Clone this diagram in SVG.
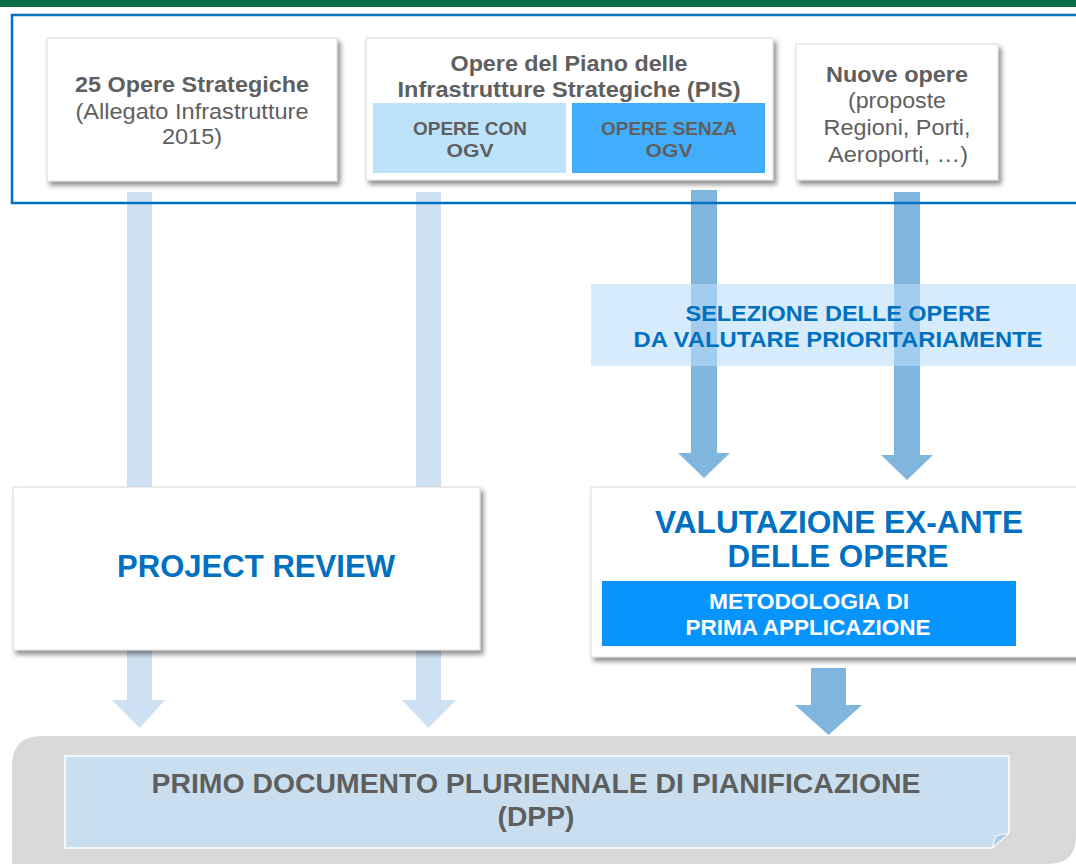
<svg xmlns="http://www.w3.org/2000/svg" width="1076" height="864" viewBox="0 0 1076 864">
  <defs>
    <filter id="sh" x="-10%" y="-10%" width="125%" height="130%">
      <feDropShadow dx="3" dy="4" stdDeviation="2.5" flood-color="#000" flood-opacity="0.45"/>
    </filter>
    <style>
      text { font-family: "Liberation Sans", Arial, sans-serif; text-anchor: middle; }
      .box { fill: #ffffff; stroke: #d9d9d9; stroke-width: 1; filter: url(#sh); }
      .g { fill: #5f5f5f; }
      .b { font-weight: bold; }
      .blue { fill: #0070c0; font-weight: bold; }
      .la { fill: #cde1f2; }
      .da { fill: #80b5de; }
    </style>
  </defs>
  <rect width="1076" height="864" fill="#ffffff"/>
  <rect x="0" y="0" width="1076" height="7" fill="#0a6e46"/>

  <g id="dpp-area">
    <path d="M42,736 H1076 V836 Q1076,864 1048,864 H12 V766 Q12,736 42,736 Z" fill="#d9d9d9"/>
  </g>

  <g id="connectors">
    <polygon class="la" points="127,192 152,192 152,700 165,700 139.5,728 112,700 127,700"/>
    <polygon class="la" points="416,192 441,192 441,700 456,700 428.5,728 402,700 416,700"/>
    <polygon class="da" points="691,190 717,190 717,453 730,453 704,478 678,453 691,453"/>
    <polygon class="da" points="894,192 920,192 920,455 933,455 907,480 881,455 894,455"/>
    <polygon class="da" points="811,668 846,668 846,705 862,705 828.5,735 795,705 811,705"/>
  </g>

  <g id="frame">
    <rect x="12" y="15" width="1080" height="188" fill="none" stroke="#0070c0" stroke-width="2.5"/>
  </g>

  <g id="opere-strategiche">
    <rect class="box" x="47" y="38" width="290" height="143"/>
    <text class="g b" x="192" y="92" font-size="22.5" textLength="234" lengthAdjust="spacingAndGlyphs">25 Opere Strategiche</text>
    <text class="g" x="192" y="119" font-size="22.5" textLength="233" lengthAdjust="spacingAndGlyphs">(Allegato Infrastrutture</text>
    <text class="g" x="192" y="144" font-size="22.5" textLength="60" lengthAdjust="spacingAndGlyphs">2015)</text>
  </g>

  <g id="pis">
    <rect class="box" x="366" y="38" width="407" height="142"/>
    <text class="g b" x="569" y="71" font-size="22.5" textLength="237" lengthAdjust="spacingAndGlyphs">Opere del Piano delle</text>
    <text class="g b" x="569" y="97" font-size="22.5" textLength="343" lengthAdjust="spacingAndGlyphs">Infrastrutture Strategiche (PIS)</text>
    <g id="opere-con-ogv">
      <rect x="373" y="103" width="193" height="70" fill="#bde3fb"/>
      <text class="g b" x="470" y="135" font-size="17.5" textLength="114" lengthAdjust="spacingAndGlyphs">OPERE CON</text>
      <text class="g b" x="470" y="157" font-size="17.5" textLength="47" lengthAdjust="spacingAndGlyphs">OGV</text>
    </g>
    <g id="opere-senza-ogv">
      <rect x="572" y="103" width="193" height="70" fill="#42adfb"/>
      <text class="g b" x="669" y="135" font-size="17.5" textLength="136" lengthAdjust="spacingAndGlyphs">OPERE SENZA</text>
      <text class="g b" x="669" y="157" font-size="17.5" textLength="47" lengthAdjust="spacingAndGlyphs">OGV</text>
    </g>
  </g>

  <g id="nuove-opere">
    <rect class="box" x="796" y="44" width="202" height="136"/>
    <text class="g b" x="897" y="82" font-size="22.5" textLength="142" lengthAdjust="spacingAndGlyphs">Nuove opere</text>
    <text class="g" x="897" y="108" font-size="22.5" textLength="98" lengthAdjust="spacingAndGlyphs">(proposte</text>
    <text class="g" x="897" y="135" font-size="22.5" textLength="147" lengthAdjust="spacingAndGlyphs">Regioni, Porti,</text>
    <text class="g" x="898" y="162" font-size="22.5" textLength="140" lengthAdjust="spacingAndGlyphs">Aeroporti, …)</text>
  </g>

  <g id="selezione">
    <rect x="591" y="284" width="500" height="82" fill="#bbdefa" fill-opacity="0.6"/>
    <text class="blue" x="838" y="321" font-size="22.5" textLength="305" lengthAdjust="spacingAndGlyphs">SELEZIONE DELLE OPERE</text>
    <text class="blue" x="838" y="347" font-size="22.5" textLength="409" lengthAdjust="spacingAndGlyphs">DA VALUTARE PRIORITARIAMENTE</text>
  </g>

  <g id="project-review">
    <rect class="box" x="13" y="487" width="467" height="163"/>
    <text class="blue" x="256" y="577" font-size="30.5" textLength="278" lengthAdjust="spacingAndGlyphs">PROJECT REVIEW</text>
  </g>

  <g id="valutazione">
    <rect class="box" x="591" y="487" width="500" height="170"/>
    <text class="blue" x="839" y="533" font-size="30.5" textLength="368" lengthAdjust="spacingAndGlyphs">VALUTAZIONE EX-ANTE</text>
    <text class="blue" x="838" y="567" font-size="30.5" textLength="221" lengthAdjust="spacingAndGlyphs">DELLE OPERE</text>
    <g id="metodologia">
      <rect x="602" y="581" width="414" height="65" fill="#0894fd"/>
      <text class="b" x="809" y="609" font-size="21.5" fill="#ffffff" textLength="200" lengthAdjust="spacingAndGlyphs">METODOLOGIA DI</text>
      <text class="b" x="808" y="635" font-size="21.5" fill="#ffffff" textLength="245" lengthAdjust="spacingAndGlyphs">PRIMA APPLICAZIONE</text>
    </g>
  </g>

  <g id="dpp">
    <polygon points="65,756 1009,756 1009,833 992,848 65,848" fill="#c9dff0" stroke="#ffffff" stroke-width="1.5"/>
    <polygon points="1009,833 992,848 996,836" fill="#a9cbe3" stroke="#ffffff" stroke-width="1"/>
    <text class="g b" x="536" y="793" font-size="27.5" textLength="769" lengthAdjust="spacingAndGlyphs">PRIMO DOCUMENTO PLURIENNALE DI PIANIFICAZIONE</text>
    <text class="g b" x="536" y="826" font-size="27.5" textLength="77" lengthAdjust="spacingAndGlyphs">(DPP)</text>
  </g>
</svg>
